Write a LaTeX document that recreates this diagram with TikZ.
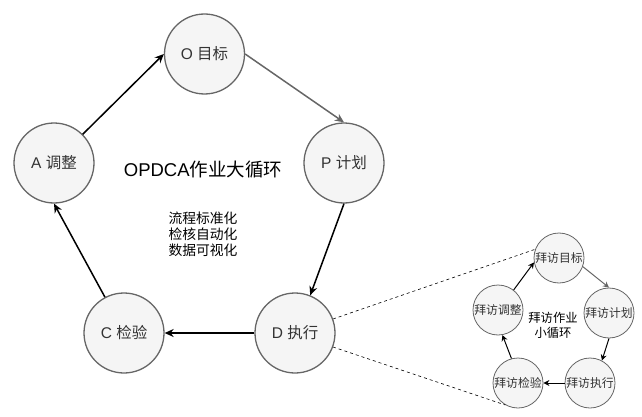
\documentclass[tikz,border=0pt]{standalone}
\usepackage{fontspec}
\setmainfont{Liberation Sans}
\newfontfamily\cjk{Noto Sans CJK SC}
\usetikzlibrary{arrows.meta}
\definecolor{cfill}{HTML}{F5F5F5}
\definecolor{cline}{HTML}{666666}
\definecolor{ctext}{HTML}{333333}
\tikzset{
  bignode/.style={circle, draw=cline, fill=cfill, line width=1.3pt, minimum size=80pt, inner sep=0pt, text=ctext, font=\fontsize{15.5}{18}\selectfont},
  smallnode/.style={circle, draw=cline, fill=cfill, line width=0.8pt, minimum size=50pt, inner sep=0pt, text=ctext, font=\cjk\fontsize{11.8}{13}\selectfont},
  bigarrow/.style={line width=1.5pt, -{Stealth[length=9pt,width=8pt]}},
  smallarrow/.style={line width=1pt, -{Stealth[length=6pt,width=6pt]}},
  dashline/.style={dashed, line width=0.6pt, dash pattern=on 3pt off 3pt}
}
\begin{document}
\begin{tikzpicture}[x=1pt,y=-1pt]
\useasboundingbox (0,0) rectangle (642,417);
% big cycle
\node[bignode] (O) at (204.5,54) {O {\cjk 目标}};
\node[bignode] (P) at (344,163) {P {\cjk 计划}};
\node[bignode] (D) at (295,333) {D {\cjk 执行}};
\node[bignode] (C) at (124,333) {C {\cjk 检验}};
\node[bignode] (A) at (54,163) {A {\cjk 调整}};
\node[font=\fontsize{18.5}{21}\selectfont] (title) at (203,170) {OPDCA{\cjk 作业大循环}};
\node[align=center, font=\cjk\fontsize{13.8}{16}\selectfont] (goals) at (203,234) {流程标准化\\检核自动化\\数据可视化};
\draw[bigarrow, color=cline] (O.east) -- (P.north);
\draw[bigarrow] (P.south) -- (D.68);
\draw[bigarrow] (D.west) -- (C.east);
\draw[bigarrow] (C.118) -- (A.south);
\draw[bigarrow] (A.north east) -- (O.west);
% small cycle
\node[smallnode] (s0) at (559,258) {拜访目标};
\node[smallnode] (s1) at (609,313) {拜访计划};
\node[smallnode] (s2) at (590,383) {拜访执行};
\node[smallnode] (s3) at (518,383) {拜访检验};
\node[smallnode] (s4) at (498,310) {拜访调整};
\node[align=center, font=\cjk\fontsize{12.3}{15}\selectfont] (stitle) at (553,325) {拜访作业\\小循环};
\draw[smallarrow, color=cline] (s0.-20) -- (s1.north);
\draw[smallarrow] (s1.south) -- (s2.62);
\draw[smallarrow] (s2.west) -- (s3.east);
\draw[smallarrow] (s3.105) -- (s4.-80);
\draw[smallarrow] (s4.52) -- (s0.190);
% zoom lines
\coordinate (du) at (333,319);
\coordinate (dl) at (333,347);
\draw[dashline] (du) -- (s0.160);
\draw[dashline] (dl) -- (s3.240);
\end{tikzpicture}
\end{document}
